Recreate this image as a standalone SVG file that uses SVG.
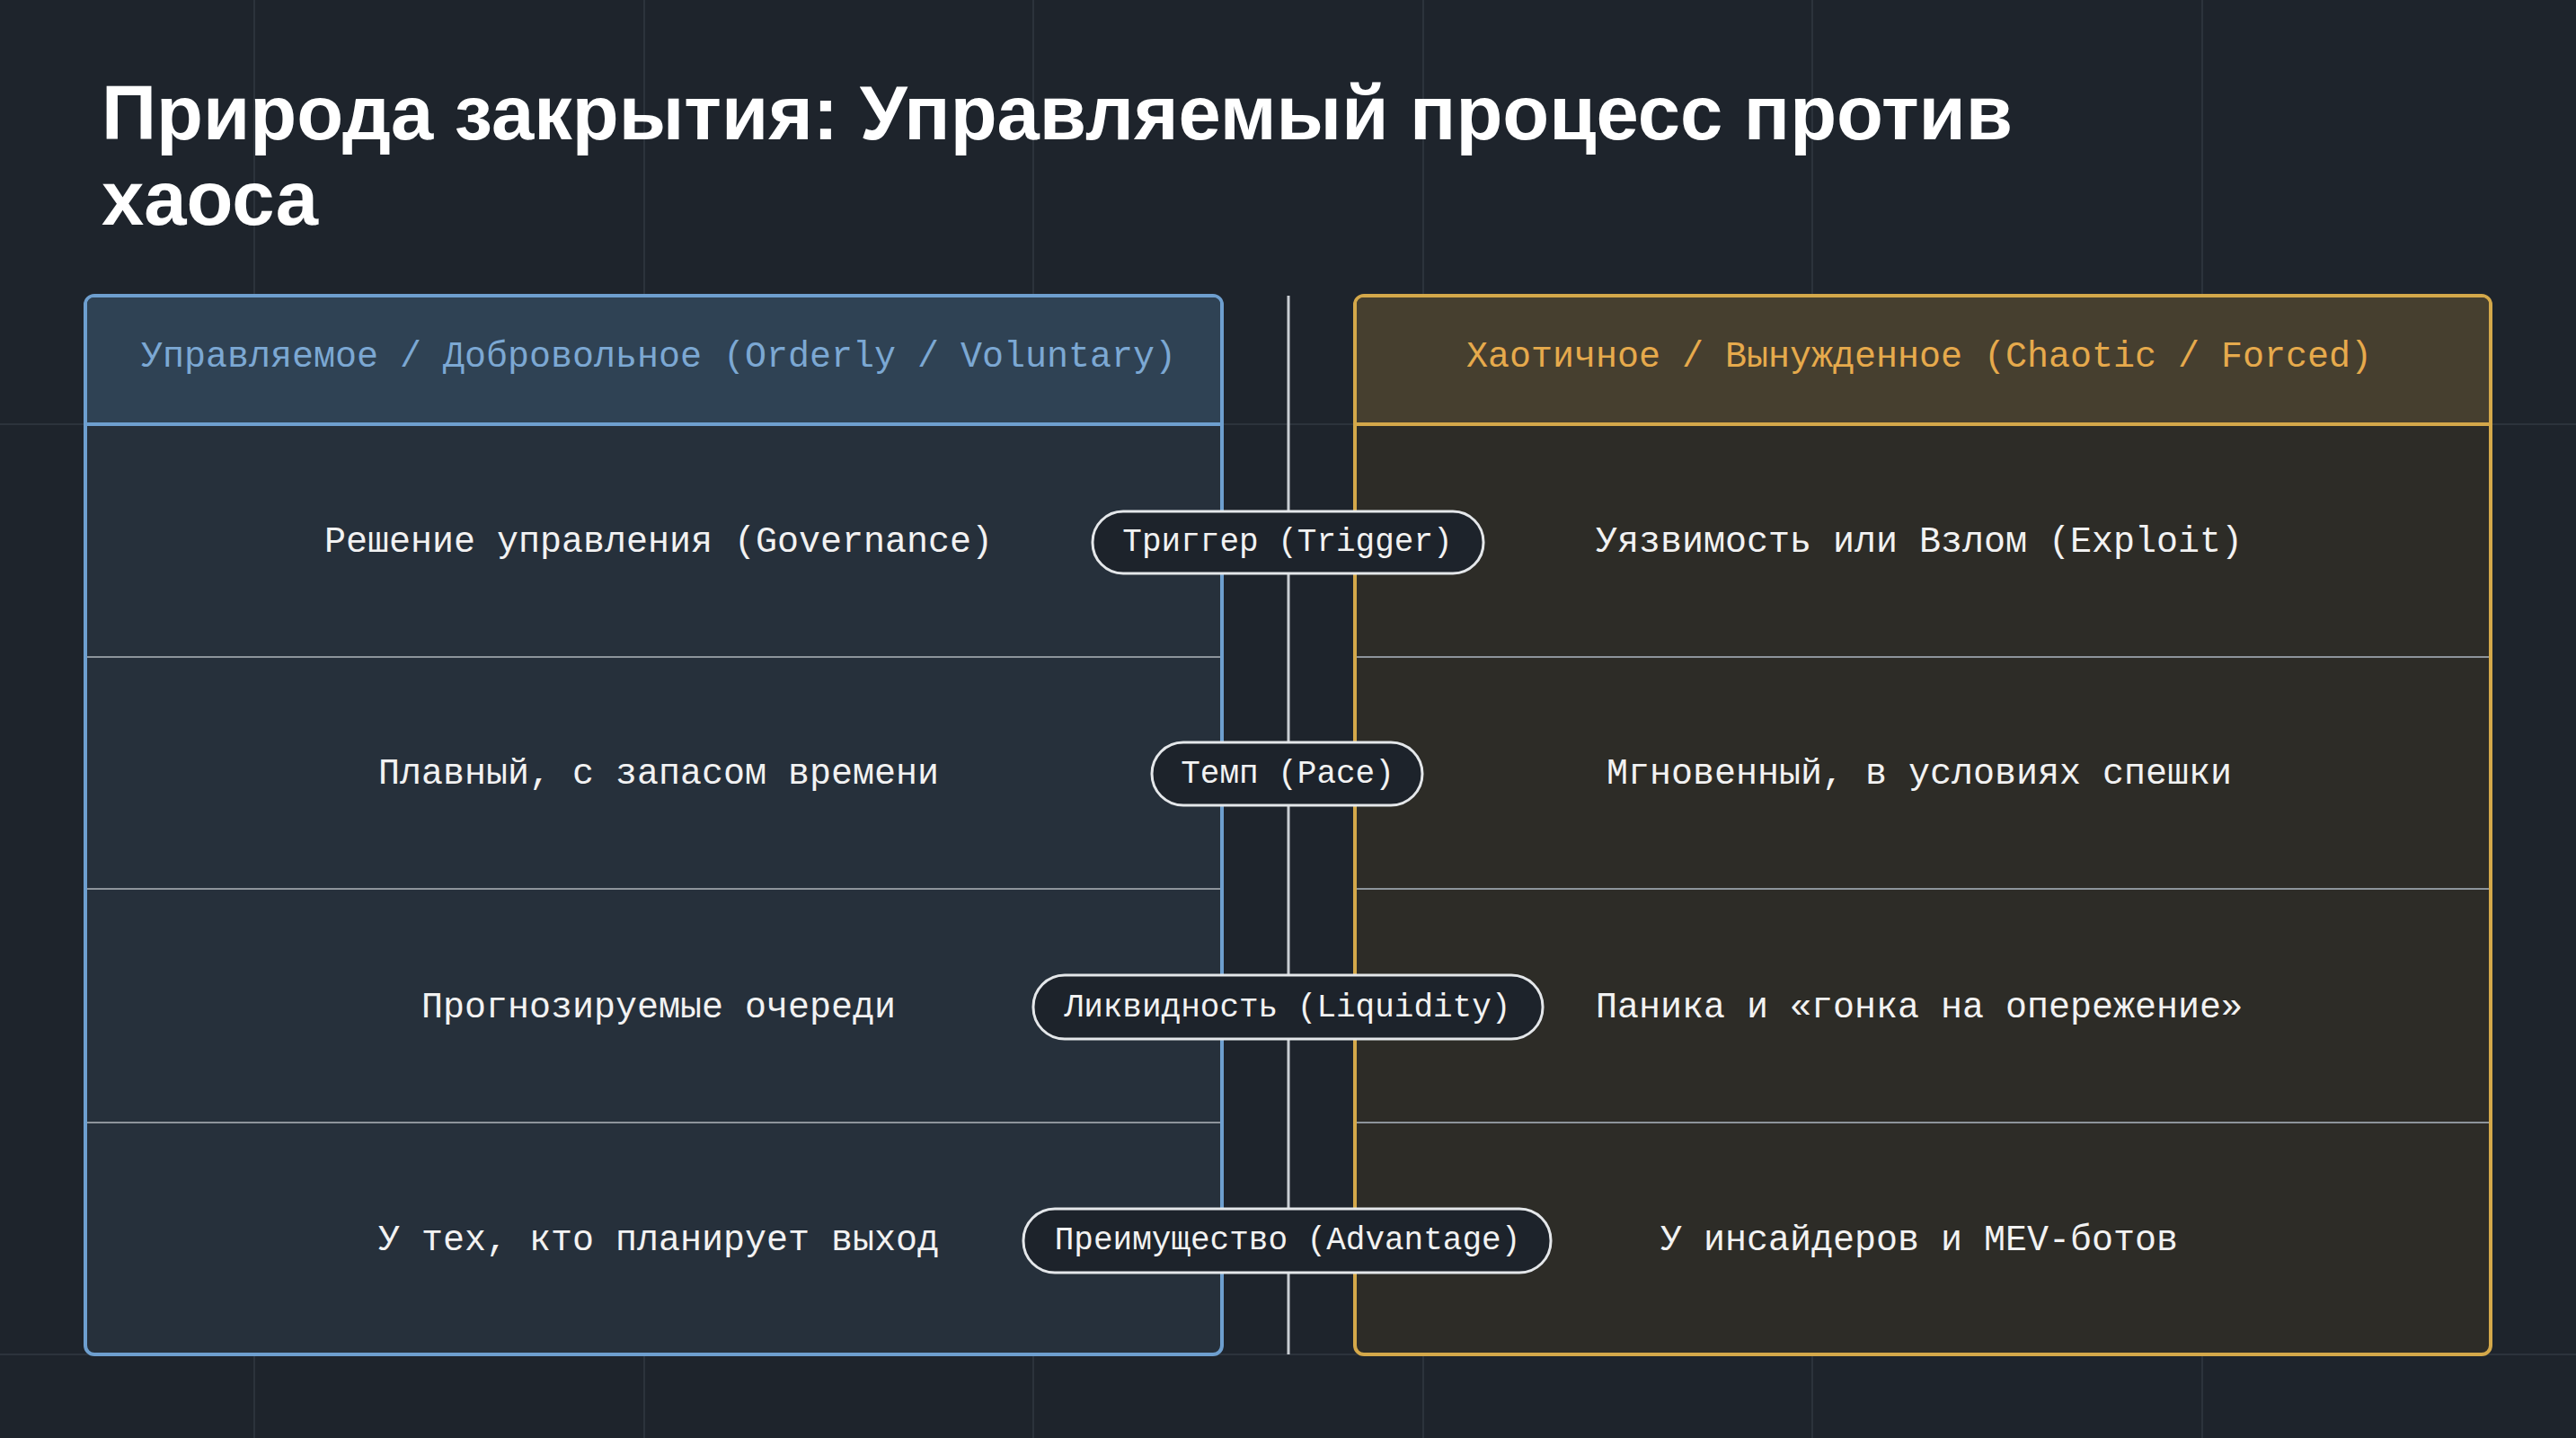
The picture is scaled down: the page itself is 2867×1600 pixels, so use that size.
<svg xmlns="http://www.w3.org/2000/svg" width="2867" height="1600" viewBox="0 0 2867 1600">
<style>
.title{font-family:"Liberation Sans",Arial,sans-serif;font-weight:bold;font-size:85px;fill:#ffffff}
.mono{font-family:"Liberation Mono","DejaVu Sans Mono",monospace;font-size:40px;text-anchor:middle;dominant-baseline:central}
.cell{fill:#f2f2f2}
.pill rect{fill:#1d232b;stroke:#e4e7ea;stroke-width:3}
.pill text{fill:#f2f2f2;font-size:36px}
.grid{stroke:#2c333c;stroke-width:2}
.sep{stroke:#8d949b;stroke-width:2}
</style>
<rect width="2867" height="1600" fill="#1e242c"/>
<g id="grid">
<line class="grid" x1="283" y1="0" x2="283" y2="1600"/>
<line class="grid" x1="717" y1="0" x2="717" y2="1600"/>
<line class="grid" x1="1150" y1="0" x2="1150" y2="1600"/>
<line class="grid" x1="1584" y1="0" x2="1584" y2="1600"/>
<line class="grid" x1="2017" y1="0" x2="2017" y2="1600"/>
<line class="grid" x1="2451" y1="0" x2="2451" y2="1600"/>
<line class="grid" x1="0" y1="472" x2="2867" y2="472"/>
<line class="grid" x1="0" y1="1507" x2="2867" y2="1507"/>
</g>
<g id="title">
<text class="title" x="113" y="155">Природа закрытия: Управляемый процесс против</text>
<text class="title" x="113" y="250">хаоса</text>
</g>
<g id="left-panel">
<rect x="95" y="329" width="1265" height="1178" rx="10" fill="#26303b" stroke="#6e9fcf" stroke-width="4"/>
<path d="M97 472 V339 Q97 331 105 331 H1350 Q1358 331 1358 339 V472 Z" fill="#2f4254"/>
<line x1="95" y1="472" x2="1360" y2="472" stroke="#6e9fcf" stroke-width="4"/>
<text class="mono" x="733" y="397" fill="#7ca8d3">Управляемое / Добровольное (Orderly / Voluntary)</text>
<line class="sep" x1="97" y1="731" x2="1358" y2="731"/>
<line class="sep" x1="97" y1="989" x2="1358" y2="989"/>
<line class="sep" x1="97" y1="1249" x2="1358" y2="1249"/>
<text class="mono cell" x="733" y="603">Решение управления (Governance)</text>
<text class="mono cell" x="733" y="861">Плавный, с запасом времени</text>
<text class="mono cell" x="733" y="1121">Прогнозируемые очереди</text>
<text class="mono cell" x="733" y="1380">У тех, кто планирует выход</text>
</g>
<g id="right-panel">
<rect x="1508" y="329" width="1264" height="1178" rx="10" fill="#2d2c27" stroke="#d4a84a" stroke-width="4"/>
<path d="M1510 472 V339 Q1510 331 1518 331 H2762 Q2770 331 2770 339 V472 Z" fill="#463f2f"/>
<line x1="1508" y1="472" x2="2772" y2="472" stroke="#d4a84a" stroke-width="4"/>
<text class="mono" x="2136" y="397" fill="#e6aa4c">Хаотичное / Вынужденное (Chaotic / Forced)</text>
<line class="sep" x1="1510" y1="731" x2="2770" y2="731"/>
<line class="sep" x1="1510" y1="989" x2="2770" y2="989"/>
<line class="sep" x1="1510" y1="1249" x2="2770" y2="1249"/>
<text class="mono cell" x="2136" y="603">Уязвимость или Взлом (Exploit)</text>
<text class="mono cell" x="2136" y="861">Мгновенный, в условиях спешки</text>
<text class="mono cell" x="2136" y="1121">Паника и «гонка на опережение»</text>
<text class="mono cell" x="2136" y="1380">У инсайдеров и MEV-ботов</text>
</g>
<g id="connectors">
<line x1="1434" y1="329" x2="1434" y2="1507" stroke="#c9ced3" stroke-width="3"/>
</g>
<g id="pill-trigger" class="pill"><rect x="1216" y="569" width="435" height="69" rx="34"/><text class="mono" x="1433" y="603">Триггер (Trigger)</text></g>
<g id="pill-pace" class="pill"><rect x="1282" y="826" width="301" height="70" rx="35"/><text class="mono" x="1433" y="861">Темп (Pace)</text></g>
<g id="pill-liquidity" class="pill"><rect x="1150" y="1085" width="567" height="71" rx="35"/><text class="mono" x="1433" y="1121">Ликвидность (Liquidity)</text></g>
<g id="pill-advantage" class="pill"><rect x="1139" y="1345" width="587" height="71" rx="35"/><text class="mono" x="1433" y="1380">Преимущество (Advantage)</text></g>
</svg>
